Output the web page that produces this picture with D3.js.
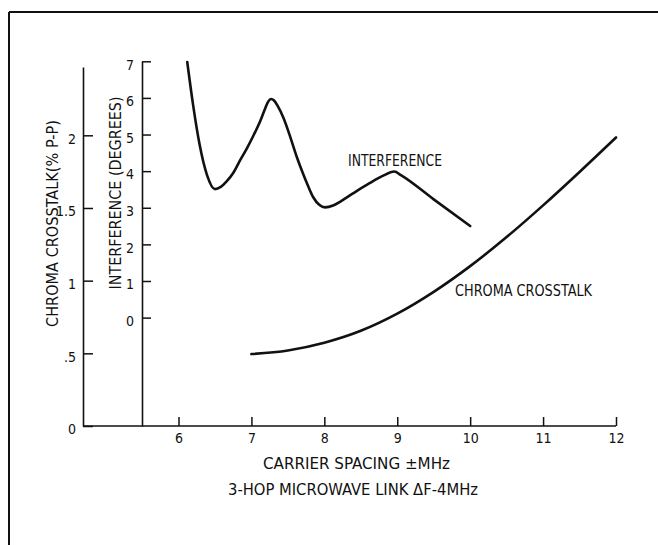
<!DOCTYPE html>
<html>
<head>
<meta charset="utf-8">
<script src="https://cdn.jsdelivr.net/npm/d3@7"></script>
<style>
  html, body { margin: 0; padding: 0; background: #fff; }
  svg { display: block; }
  text { font-family: "DejaVu Sans Condensed", "Liberation Sans Narrow", "Roboto Condensed", sans-serif; font-stretch: condensed; fill: #111; }
</style>
</head>
<body>
<svg id="chart" width="658" height="545"></svg>
<script>
// ---- data ----
const xTicks = [6, 7, 8, 9, 10, 11, 12];
const chromaTicks = [0, 0.5, 1, 1.5, 2];
const chromaTickLabels = ["0", ".5", "1", "1.5", "2"];
const interfTicks = [0, 1, 2, 3, 4, 5, 6, 7];

const interfX = [6.12, 6.20, 6.29, 6.39, 6.50, 6.58, 6.66, 6.75, 6.84, 6.94, 7.03, 7.12, 7.19, 7.23, 7.27, 7.31, 7.36, 7.44, 7.53, 7.62, 7.71, 7.78, 7.85, 7.93, 8.01, 8.12, 8.22, 8.40, 8.62, 8.80, 8.96, 9.05, 9.50, 10.0];
const interfY = [6.98, 5.81, 4.72, 3.90, 3.51, 3.57, 3.72, 3.95, 4.28, 4.63, 4.98, 5.36, 5.72, 5.90, 5.97, 5.93, 5.78, 5.45, 4.95, 4.40, 3.92, 3.58, 3.28, 3.08, 3.01, 3.06, 3.17, 3.40, 3.67, 3.87, 3.99, 3.89, 3.23, 2.50];

const chromaX = [7.0, 7.5, 8.0, 8.5, 9.0, 9.5, 10.0, 10.5, 11.0, 11.5, 12.0];
const chromaY = [0.495, 0.52, 0.573, 0.655, 0.773, 0.923, 1.10, 1.30, 1.518, 1.748, 1.985];

const xTitle = "CARRIER SPACING \u00B1MHz";
const xSubtitle = "3-HOP MICROWAVE LINK \u0394F-4MHz";
const chromaTitle = "CHROMA  CROSSTALK(% P-P)";
const interfTitle = "INTERFERENCE (DEGREES)";
const interfLabel = "INTERFERENCE";
const chromaLabel = "CHROMA  CROSSTALK";

// ---- layout ----
const svg = d3.select("#chart");
const baseY = 426;
const chromaAxisX = 83;
const interfAxisX = 142;

const x = d3.scaleLinear().domain([6, 12]).range([178.5, 616]);
const yC = d3.scaleLinear().domain([0, 2.47]).range([baseY, 67]);
const yI = d3.scaleLinear().domain([-2.96, 7]).range([baseY, 61.3]);

// frame
svg.append("line").attr("x1", 9).attr("y1", 12).attr("x2", 658).attr("y2", 12)
  .attr("stroke", "#111").attr("stroke-width", 2);
svg.append("line").attr("x1", 9).attr("y1", 12).attr("x2", 9).attr("y2", 545)
  .attr("stroke", "#111").attr("stroke-width", 2);

// x axis
const gx = svg.append("g").attr("transform", `translate(0,${baseY})`)
  .call(d3.axisBottom(x).tickValues(xTicks).tickSize(-9).tickSizeOuter(0).tickPadding(7).tickFormat(d3.format("d")));
gx.select(".domain").remove();
gx.selectAll(".tick line").attr("stroke", "#111").attr("stroke-width", 1.5);
gx.selectAll(".tick text").attr("font-size", 14).attr("fill", "#111");
svg.append("line").attr("x1", chromaAxisX).attr("x2", x(12)).attr("y1", baseY).attr("y2", baseY)
  .attr("stroke", "#111").attr("stroke-width", 1.6);

// chroma axis
const gc = svg.append("g").attr("transform", `translate(${chromaAxisX},0)`)
  .call(d3.axisLeft(yC).tickValues(chromaTicks).tickSize(-10).tickSizeOuter(0).tickPadding(7)
    .tickFormat((d, i) => chromaTickLabels[i]));
gc.select(".domain").attr("stroke", "#111").attr("stroke-width", 1.6);
gc.selectAll(".tick line").attr("stroke", "#111").attr("stroke-width", 1.5);
gc.selectAll(".tick text").attr("font-size", 14).attr("fill", "#111").attr("dy", "0.55em");

// interference axis
const gi = svg.append("g").attr("transform", `translate(${interfAxisX},0)`)
  .call(d3.axisLeft(yI).tickValues(interfTicks).tickSize(-9).tickSizeOuter(0).tickPadding(8).tickFormat(d3.format("d")));
gi.select(".domain").attr("stroke", "#111").attr("stroke-width", 1.6);
gi.selectAll(".tick line").attr("stroke", "#111").attr("stroke-width", 1.5);
gi.selectAll(".tick text").attr("font-size", 14).attr("fill", "#111").attr("dy", "0.55em");

// curves
const lineI = d3.line().x(d => x(d[0])).y(d => yI(d[1])).curve(d3.curveMonotoneX);
const lineC = d3.line().x(d => x(d[0])).y(d => yC(d[1])).curve(d3.curveMonotoneX);
svg.append("path").datum(d3.zip(interfX, interfY)).attr("d", lineI)
  .attr("fill", "none").attr("stroke", "#111").attr("stroke-width", 2.6).attr("stroke-linecap", "round").attr("stroke-linejoin", "round");
svg.append("path").datum(d3.zip(chromaX, chromaY)).attr("d", lineC)
  .attr("fill", "none").attr("stroke", "#111").attr("stroke-width", 2.6).attr("stroke-linecap", "round");

// titles / labels
function label(txt, xPos, yPos, len, size, rotate) {
  const t = svg.append("text").text(txt)
    .attr("font-size", size)
    .attr("textLength", len).attr("lengthAdjust", "spacingAndGlyphs");
  if (rotate) {
    t.attr("transform", `translate(${xPos},${yPos}) rotate(-90)`)
      .attr("text-anchor", "middle").attr("dominant-baseline", "central");
  } else {
    t.attr("x", xPos).attr("y", yPos);
  }
  return t;
}
label(xTitle, 263, 469, 187, 16, false);
label(xSubtitle, 228, 495, 250, 16, false);
label(interfLabel, 348, 166, 94, 16, false);
label(chromaLabel, 455, 296, 137, 16, false);
label(chromaTitle, 52, 223.5, 207, 16, true);
label(interfTitle, 115, 193, 193, 16, true);
</script>
</body>
</html>
